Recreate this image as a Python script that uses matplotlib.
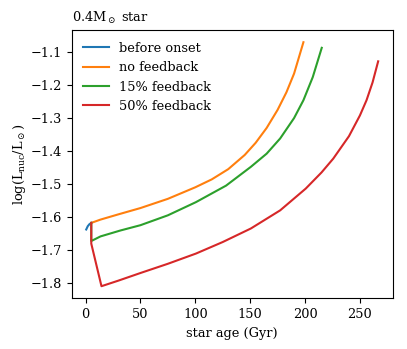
import matplotlib
matplotlib.use("Agg")
import numpy as np
from matplotlib import pyplot as plt

plt.rcParams['font.family'] = 'DejaVu Serif'
plt.rcParams['mathtext.fontset'] = 'dejavuserif'
plt.rcParams['font.size'] = 9.3

# values (age in Gyr, log L_nuc/L_sun)
age_before = [0.6, 2.0, 3.5, 5.2]
lum_before = [-1.638, -1.628, -1.622, -1.618]

age_nofb = [5.2, 13.6, 30, 50, 75, 100, 115, 130, 145, 155, 165, 175, 183,
            190, 198.5]
lum_nofb = [-1.618, -1.608, -1.592, -1.573, -1.545, -1.510, -1.486, -1.455,
            -1.412, -1.375, -1.330, -1.275, -1.222, -1.165, -1.070]

age_fb15 = [5.2, 5.2, 13.6, 31.8, 50, 75, 100.6, 128, 150.6, 165, 177.3, 190,
            198.5, 207, 215.2]
lum_fb15 = [-1.618, -1.673, -1.659, -1.641, -1.625, -1.595, -1.555, -1.505,
            -1.448, -1.408, -1.362, -1.300, -1.246, -1.176, -1.087]

age_fb50 = [5.2, 5.2, 14.5, 30, 50, 75, 100.6, 125, 150.6, 177.3, 200.6,
            215, 225.7, 240, 250, 256, 261.5, 266.6]
lum_fb50 = [-1.618, -1.681, -1.81, -1.793, -1.770, -1.742, -1.711, -1.676,
            -1.635, -1.580, -1.514, -1.465, -1.423, -1.355, -1.292, -1.246,
            -1.192, -1.128]

fig = plt.figure(figsize=(4.07, 3.49), dpi=100)
ax = fig.add_axes([0.176, 0.145, 0.789, 0.769])

ax.plot(age_before, lum_before, label='before onset')
ax.plot(age_nofb, lum_nofb, label='no feedback')
ax.plot(age_fb15, lum_fb15, label='15% feedback')
ax.plot(age_fb50, lum_fb50, label='50% feedback')

ax.set_xlabel('star age (Gyr)')
ax.set_ylabel(r'log(L$_{\rm nuc}$/L$_\odot$)', labelpad=2)
ax.set_title(r'0.4M$_\odot$ star', loc='left', fontsize=9.3)
ax.legend(frameon=False, loc='upper left')

fig.savefig('out.png', dpi=100)
